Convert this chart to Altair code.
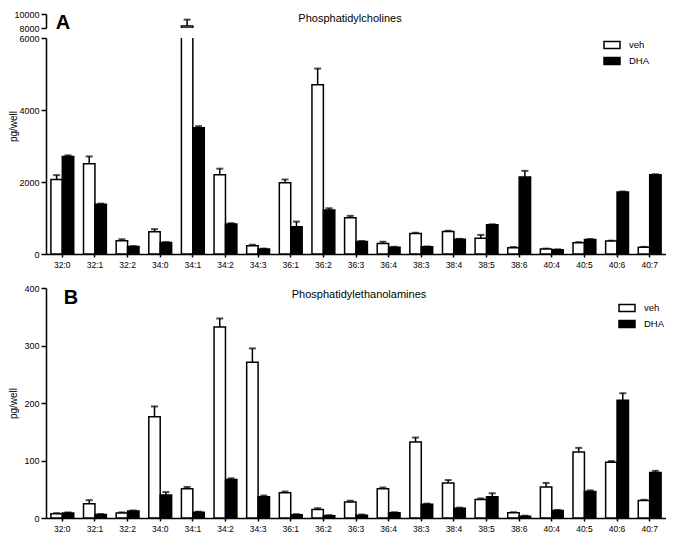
import altair as alt
import pandas as pd

categories = ["32:0", "32:1", "32:2", "34:0", "34:1", "34:2", "34:3", "36:1", "36:2", "36:3",
              "36:4", "38:3", "38:4", "38:5", "38:6", "40:4", "40:5", "40:6", "40:7"]
groups = ["veh", "DHA"]

pc_veh = [2070, 2510, 370, 615, 8300, 2200, 230, 1980, 4700, 1010, 295, 570, 625, 440, 175, 140, 310, 360, 190]
pc_veh_err = [120, 200, 40, 75, 900, 170, 27, 90, 450, 50, 45, 20, 20, 90, 20, 10, 20, 10, 10]
pc_dha = [2710, 1380, 210, 320, 3510, 830, 140, 760, 1220, 350, 190, 200, 410, 810, 2140, 120, 400, 1720, 2200]
pc_dha_err = [30, 20, 10, 10, 40, 25, 10, 140, 50, 10, 10, 10, 10, 15, 170, 10, 15, 15, 15]

pe_veh = [7.5, 25, 8.7, 176, 51, 332, 271, 44, 15, 28, 51, 132, 61, 32, 9, 54, 115, 97, 30.6]
pe_veh_err = [1, 6, 1, 18, 3, 15, 24, 2, 2, 2, 2, 8, 5, 2, 1, 7, 7, 2, 1]
pe_dha = [8.7, 6, 12, 40, 10, 67, 37, 5.8, 4, 5, 9, 24, 17, 37, 3, 13, 46, 205, 79]
pe_dha_err = [1, 1, 1, 5, 1, 2, 2, 1, 1, 1, 1, 1, 1, 6, 1, 1, 2, 12, 3]

FONT = "Liberation Sans"


def make_df(veh, veh_err, dha, dha_err):
    rows = []
    for i, c in enumerate(categories):
        rows.append({"cat": c, "group": "veh", "value": veh[i], "top": veh[i] + veh_err[i]})
        rows.append({"cat": c, "group": "DHA", "value": dha[i], "top": dha[i] + dha_err[i]})
    return pd.DataFrame(rows)


pc_df = make_df(pc_veh, pc_veh_err, pc_dha, pc_dha_err)
pe_df = make_df(pe_veh, pe_veh_err, pe_dha, pe_dha_err)

sym_path = "M-1,-0.45H1V0.45H-1Z"


def panel(df, domain, ticks, show_x, legend, ytitle, title_y=None, break_low=None):
    xaxis = alt.Axis(title=None, labelAngle=0, labelFontSize=8.5, tickSize=3, labelPadding=3,
                     domainColor="black", tickColor="black", labelColor="black",
                     domainWidth=1.5, tickWidth=1.5) if show_x else None
    x = alt.X("cat:N", sort=categories,
              scale=alt.Scale(domain=categories, paddingInner=0.3, paddingOuter=0.15), axis=xaxis)
    xo = alt.XOffset("group:N", sort=groups, scale=alt.Scale(domain=groups))
    yaxis_kwargs = dict(values=ticks, format="d", grid=False, labelFontSize=9, tickSize=5,
                        labelPadding=2, domainColor="black", tickColor="black", labelColor="black",
                        domainWidth=1.5, tickWidth=1.5,
                        titleFontSize=10, titleFontWeight="normal", titleColor="black")
    if ytitle:
        yaxis_kwargs["title"] = ytitle
        yaxis_kwargs["titleX"] = -28
        if title_y is not None:
            yaxis_kwargs["titleY"] = title_y
    else:
        yaxis_kwargs["title"] = None
    y = alt.Y("value:Q", scale=alt.Scale(domain=domain, nice=False, zero=False),
              axis=alt.Axis(**yaxis_kwargs))
    if legend is None:
        fill_legend = None
    else:
        fill_legend = alt.Legend(title=None, orient="none", legendX=legend[0], legendY=legend[1],
                                 symbolType=sym_path, symbolSize=256, symbolStrokeColor="black",
                                 symbolStrokeWidth=1.5, labelFontSize=9.5, labelOffset=8,
                                 rowPadding=0, labelColor="black", labelFont=FONT)
    fill = alt.Fill("group:N", sort=groups,
                    scale=alt.Scale(domain=groups, range=["white", "black"]), legend=fill_legend)
    base = alt.Chart(df)
    if break_low is None:
        bars = base.mark_bar(stroke="black", strokeWidth=1.5, clip=True).encode(
            x=x, xOffset=xo, y=y, fill=fill)
        rules = base.mark_rule(color="black", strokeWidth=1.5, clip=True).encode(
            x=x, xOffset=xo, y=alt.Y("value:Q"), y2="top:Q")
        caps = base.mark_tick(color="black", thickness=2, size=7, clip=True).encode(
            x=x, xOffset=xo, y=alt.Y("top:Q"))
    else:
        bars = base.transform_filter(alt.datum.value > break_low).mark_bar(
            stroke="black", strokeWidth=1.5, clip=True).encode(
            x=x, xOffset=xo, y=y, y2=alt.datum(break_low), fill=fill)
        rules = base.transform_filter(alt.datum.top > break_low).mark_rule(
            color="black", strokeWidth=1.5, clip=True).encode(
            x=x, xOffset=xo, y=alt.Y("value:Q"), y2="top:Q")
        caps = base.transform_filter(alt.datum.top > break_low).mark_tick(
            color="black", thickness=2, size=7, clip=True).encode(
            x=x, xOffset=xo, y=alt.Y("top:Q"))
    return alt.layer(rules, caps, bars)


def label(text, x, y, size, weight="normal"):
    d = pd.DataFrame({"t": [text]})
    return alt.Chart(d).mark_text(fontSize=size, fontWeight=weight, font=FONT, color="black",
                                  align="center", baseline="middle").encode(
        text="t:N", x=alt.value(x), y=alt.value(y))


W = 620
no_frame = alt.ViewBackground(stroke="transparent", strokeWidth=0)

top_a = alt.layer(
    panel(pc_df, [8000, 10000], [8000, 10000], False, None, None, break_low=8000),
    label("Phosphatidylcholines", 304, 5, 11),
    label("A", 17, 9, 20, "bold"),
).properties(width=W, height=14, view=no_frame)

bot_a = panel(pc_df, [0, 6000], [0, 2000, 4000, 6000], True, (557, -2), "pg/well", 88).properties(
    width=W, height=216, view=no_frame)

panel_a = alt.vconcat(top_a, bot_a, spacing=1).resolve_scale(fill="independent")

panel_b = alt.layer(
    panel(pe_df, [0, 400], [0, 100, 200, 300, 400], True, (572, 11), "pg/well"),
    label("Phosphatidylethanolamines", 313, 7, 11),
    label("B", 25, 10, 20, "bold"),
).properties(width=W, height=230, view=no_frame)

chart = alt.vconcat(panel_a, panel_b, spacing=15).resolve_scale(fill="independent").properties(
    padding={"left": 0, "top": 2, "right": 0, "bottom": 0}
).configure_view(
    strokeWidth=0, stroke="transparent"
).configure(font=FONT)

chart.save("out.html", embed_options={"renderer": "svg", "actions": False})
